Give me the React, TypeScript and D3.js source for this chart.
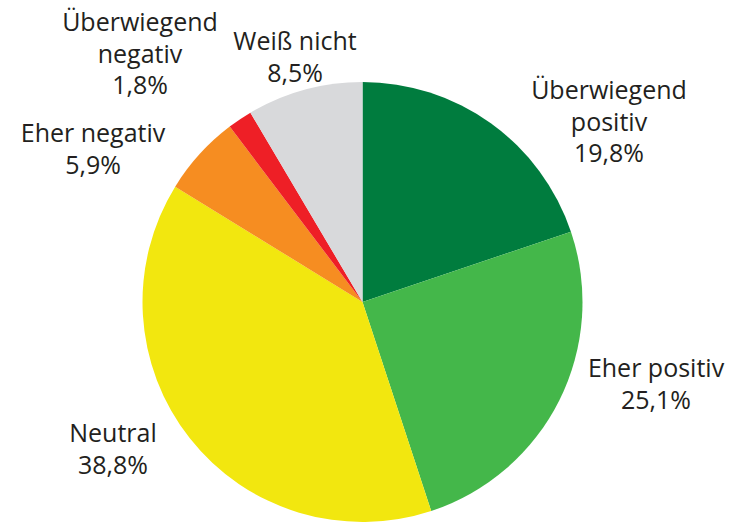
import React from "react";
import * as d3 from "d3";

const categories = ["Überwiegend positiv", "Eher positiv", "Neutral", "Eher negativ", "Überwiegend negativ", "Weiß nicht"];
const values = [19.8, 25.1, 38.8, 5.9, 1.8, 8.5];
const labelLines = [
  ["Überwiegend", "positiv", "19,8%"],
  ["Eher positiv", "25,1%"],
  ["Neutral", "38,8%"],
  ["Eher negativ", "5,9%"],
  ["Überwiegend", "negativ", "1,8%"],
  ["Weiß nicht", "8,5%"],
];
const colors = ["#007C3E", "#44B74A", "#F2E70F", "#F68D21", "#EE1F26", "#D8D9DB"];

const W = 731, H = 522;
const cx = 362.5, cy = 302, R = 220;
// label anchor (center x, first-line baseline y)
const labelAnchors: [number, number][] = [
  [609, 99],
  [656, 377],
  [113, 442],
  [93, 142],
  [140, 31],
  [295, 50],
];
const lineH = 31.5;

export default function App() {
  const pie = d3.pie<number>().sort(null).value((d) => d);
  const arcs = pie(values);
  const arc = d3.arc<d3.PieArcDatum<number>>().innerRadius(0).outerRadius(R);
  return (
    <svg width={W} height={H} style={{ position: "absolute", left: 0, top: 0 }}>
      <rect width={W} height={H} fill="#fff" />
      <g transform={`translate(${cx},${cy})`}>
        {arcs.map((a, i) => (
          <path key={categories[i]} d={arc(a) || ""} fill={colors[i]} />
        ))}
      </g>
      {labelLines.map((lines, i) => (
        <text
          key={i}
          x={labelAnchors[i][0]}
          y={labelAnchors[i][1]}
          textAnchor="middle"
          fontFamily="Open Sans"
          fontSize={25}
          fill="#231F20"
        >
          {lines.map((l, j) => (
            <tspan key={j} x={labelAnchors[i][0]} dy={j === 0 ? 0 : lineH}>
              {l}
            </tspan>
          ))}
        </text>
      ))}
    </svg>
  );
}
